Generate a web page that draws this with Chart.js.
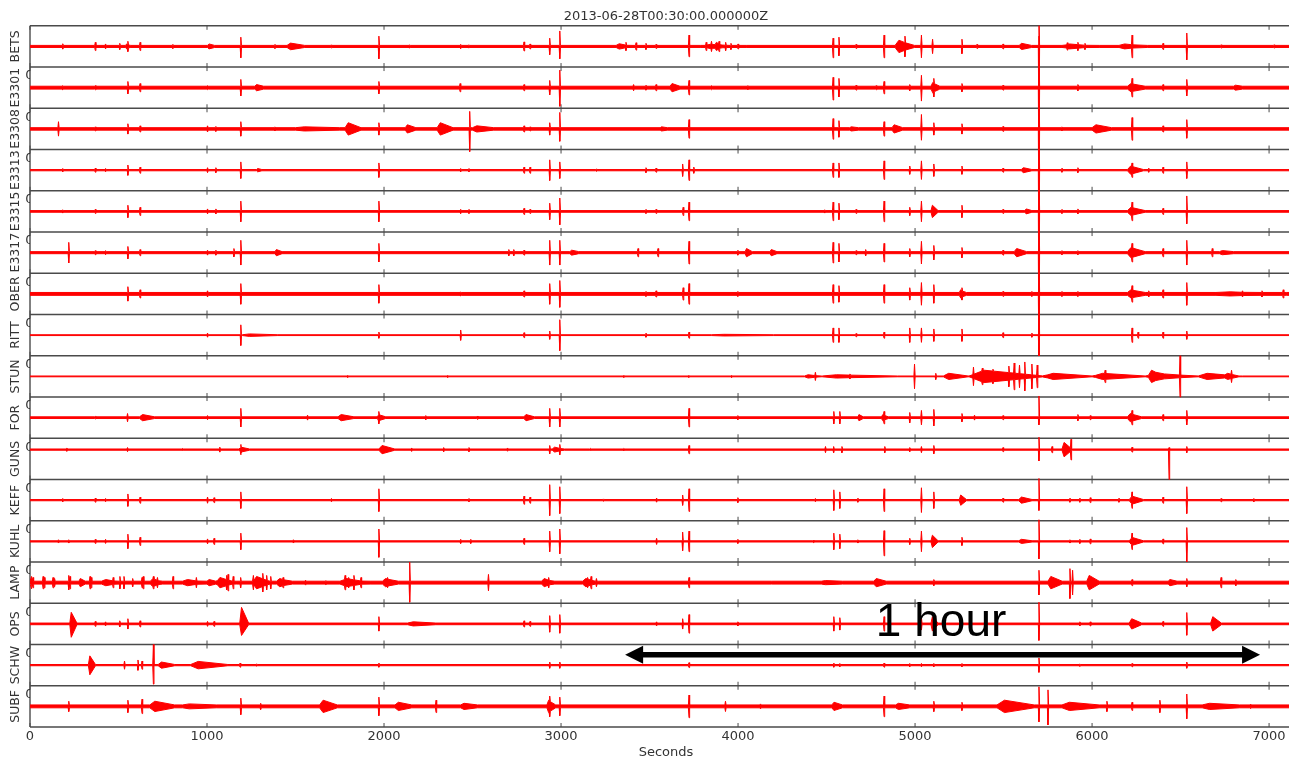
<!DOCTYPE html>
<html lang="en">
<head>
<meta charset="UTF-8">
<title>Seismograms 2013-06-28</title>
<script src="https://cdn.jsdelivr.net/npm/chart.js"></script>
<style>
    html, body { margin: 0; padding: 0; background: #fff; overflow: hidden; }
    /* the figure is wider than the window and cut at its right edge, like the original */
    #wrap { width: 1289px; height: 762px; overflow: hidden; }
</style>
</head>
<body>
<div id="wrap"><canvas id="traces" width="1302" height="762"></canvas></div>
<script>
// --- data ---
const plotTitle = '2013-06-28T00:30:00.000000Z';
const xTitle = 'Seconds';
const xMax = 7186;
const xTicks = [0, 1000, 2000, 3000, 4000, 5000, 6000, 7000];
const stations = ['BETS', 'E3301', 'E3308', 'E3313', 'E3315', 'E3317', 'OBER', 'RITT', 'STUN',
                  'FOR', 'GUNS', 'KEFF', 'KUHL', 'LAMP', 'OPS', 'SCHW', 'SUBF'];
// background noise level and baseline shift, in half-panel units
const noise = [0.05, 0.07, 0.06, 0.03, 0.04, 0.05, 0.07, 0.02, 0.02, 0.04, 0.03, 0.03, 0.03, 0.07, 0.04, 0.03, 0.07];
const shift = [0, 0, 0, 0, 0, 0, 0, 0, 0, 0, 0.45, 0, 0, 0, 0, 0, 0];
// events: [seconds, amplitude up, duration (0 = spike), amplitude down]
const betsEv = [[185,.13],[369,.2],[427,.12],[507,.15],[553,.25],[540,.12,30],[622,.2],[807,.1],[1003,.12,40],[1191,.45,0,.55],[1384,.1],[1452,.16,100],[1703,.08],[1971,.5,0,.6],[2145,.08],[2433,.1],[2480,.08],[2791,.22],[2825,.12],[2936,.4],[2993,.75,0,.6],[3311,.13,90],[3367,.2],[3424,.18],[3480,.15],[3537,.1],[3723,.55,0,.5],[3790,.1,260],[3820,.2],[3850,.25],[3870,.2,40],[3893,.25],[3930,.2],[3960,.15],[4000,.12],[4537,.4,0,.55],[4570,.45],[4667,.1],[4825,.55],[4887,.3,110],[4943,.5],[5036,.55],[5099,.35],[5265,.35],[5350,.1],[5497,.12],[5588,.15,70],[5700,1.5,0,5],[5830,.12,210],[5860,.18],[5920,.2],[5960,.15],[6152,.12,160],[6226,.55],[6401,.15],[6535,.65],[6729,.08],[7028,.08]];
const e3301Ev = [[185,.1],[369,.1],[553,.3],[622,.2],[1003,.1],[1191,.4],[1270,.15,50],[1971,.3],[2430,.2],[2791,.15],[2936,.35],[2993,.85,0,.9],[3410,.15],[3480,.12],[3537,.15],[3616,.2,56],[3723,.35],[3850,.1],[4056,.1],[4537,.5,0,.6],[4570,.45],[4667,.12],[4780,.1],[4825,.3],[4970,.15],[5036,.6,0,.65],[5106,.45],[5090,.25,50],[5265,.2],[5497,.12],[5700,2.5,0,5],[5920,.15],[6200,.2,100],[6226,.45],[6401,.15],[6535,.4],[6800,.12,50]];
const e3308Ev = [[161,.35],[369,.1],[553,.25],[622,.15],[1003,.15],[1050,.12],[1191,.35],[1384,.1],[1500,.1,250],[1780,.3,90],[1971,.3],[2120,.2,60],[2300,.3,90],[2484,.85,0,1.1],[2500,.15,120],[2791,.15],[2825,.1],[2936,.3],[2993,.8,0,.6],[3560,.1,40],[3723,.45],[4537,.5],[4570,.4],[4630,.1,50],[4825,.35],[4870,.2,60],[5036,.7,0,.55],[5106,.3],[5265,.25],[5497,.12],[5700,2.5,0,5],[5830,.1],[6000,.2,110],[6226,.55],[6401,.15],[6535,.45]];
const e3313Ev = [[185,.08],[369,.1],[427,.08],[553,.25],[622,.15],[1003,.12],[1050,.12],[1191,.4],[1280,.08,30],[1971,.35],[2433,.08],[2480,.08],[2791,.15],[2825,.15],[2936,.5],[2993,.4],[3200,.06],[3480,.12],[3537,.1],[3687,.3],[3723,.5],[3750,.15],[4537,.35],[4570,.35],[4825,.45],[4970,.2],[5036,.45],[5106,.3],[5265,.2],[5497,.1],[5600,.12,60],[5700,2.5,0,5],[5830,.1],[5920,.12],[6200,.2,90],[6226,.35],[6320,.1],[6401,.15],[6535,.4]];
const e3315Ev = [[185,.08],[369,.1],[553,.3],[622,.2],[1003,.12],[1050,.12],[1191,.5],[1971,.5],[2433,.1],[2480,.1],[2791,.15],[2825,.1],[2936,.4],[2993,.65],[3480,.1],[3537,.1],[3690,.2],[3723,.45],[4490,.08],[4537,.45],[4570,.4],[4667,.1],[4825,.5],[4970,.2],[5036,.5],[5090,.3,40],[5265,.3],[5497,.1],[5620,.12,40],[5700,2.5,0,5],[5830,.1],[5920,.12],[6200,.2,100],[6226,.45],[6401,.15],[6535,.75,0,.6]];
const e3317Ev = [[219,.5],[369,.1],[427,.1],[553,.3],[622,.15],[1003,.12],[1050,.12],[1152,.2],[1191,.6],[1384,.15,40],[1971,.45],[2705,.15],[2733,.15],[2791,.12],[2936,.6],[2993,.6],[3050,.12,50],[3435,.2],[3548,.2],[3723,.55],[3999,.12],[4040,.2,40],[4180,.15,40],[4537,.5],[4570,.45],[4667,.1],[4721,.15],[4825,.45],[4970,.2],[5036,.55],[5106,.35],[5265,.25],[5497,.12],[5560,.2,70],[5700,2.5,0,5],[5830,.1],[5920,.1],[6200,.25,100],[6226,.45],[6401,.2],[6535,.6],[6679,.2],[6720,.1,80]];
const oberEv = [[553,.35],[622,.2],[1003,.15],[1191,.5],[1971,.45],[2433,.1],[2791,.15],[2936,.5],[2993,.65],[3480,.12],[3537,.15],[3690,.3],[3723,.5],[3999,.12],[4537,.45],[4570,.4],[4825,.45],[4970,.3],[5036,.55],[5106,.45],[5250,.2,40],[5265,.3],[5497,.12],[5660,.12],[5700,2.5,0,3],[5830,.12],[5920,.12],[6200,.2,100],[6226,.4],[6320,.15],[6401,.2],[6535,.55],[6700,.1,400],[6850,.15],[6960,.15],[7080,.2]];
const rittEv = [[1003,.1],[1191,.5],[1200,.06,200],[1971,.15],[2433,.25],[2791,.12],[2936,.2],[2993,.75],[3480,.1],[3723,.15],[3850,.04,350],[4537,.35],[4570,.35],[4667,.08],[4825,.15],[4970,.35],[5036,.35],[5106,.3],[5265,.3],[5497,.12],[5660,.1],[5700,2.5,0,1],[6226,.35],[6260,.15],[6401,.15],[6535,.2]];
const stunEv = [[1795,.05],[2360,.05],[3355,.05],[3722,.05],[3964,.05],[4376,.08,100],[4437,.2],[4470,.08,430],[4632,.12],[4997,.6],[5117,.15],[5160,.15,150],[5300,.3,450],[5330,.45],[5380,.4],[5440,.35],[5530,.5],[5560,.65],[5590,.55],[5620,.7],[5660,.6],[5690,.55],[5720,.15,300],[6000,.15,300],[6074,.3],[6300,.15,300],[6318,.3,90],[6497,1],[6600,.15,250],[6750,.15,80],[6788,.3]];
const forEv = [[369,.06],[551,.2],[619,.15,85],[1003,.1],[1191,.45],[1568,.12],[1740,.15,90],[1960,.15,50],[1971,.3],[2236,.1],[2527,.08],[2790,.15,60],[2936,.45],[2993,.45],[3723,.45],[3999,.1],[4541,.3],[4575,.3],[4677,.15,30],[4810,.15,40],[4825,.3],[4970,.25],[5036,.35],[5106,.4],[5265,.2],[5336,.12],[5497,.1],[5700,1.05,0,.35],[5920,.15],[5990,.1],[6200,.2,80],[6226,.35],[6401,.15],[6535,.35]];
const gunsEv = [[208,.08],[551,.1],[862,.06],[1072,.12],[1180,.12,60],[1191,.25],[1971,.2,90],[2156,.08],[2337,.1],[2480,.1],[2698,.08],[2936,.2],[2950,.12,70],[2993,.25],[3166,.06],[3355,.06],[3723,.2],[4494,.15],[4540,.15],[4587,.15],[4829,.15],[4970,.1],[5036,.15],[5106,.2],[5497,.1],[5700,.6,0,.55],[5774,.15],[5830,.35,60],[5881,.5],[6226,.12],[6435,.1,0,1.45],[6535,.15]];
const keffEv = [[185,.08],[369,.1],[427,.08],[553,.3],[622,.15],[1003,.15],[1040,.12],[1191,.4],[1703,.08],[1971,.55],[2480,.08],[2791,.2],[2825,.15],[2936,.75],[2993,.65],[3240,.06],[3540,.1],[3687,.25],[3723,.55],[3999,.12],[4437,.08],[4541,.5],[4575,.4],[4677,.1],[4825,.55],[5036,.6],[5106,.4],[5250,.25,40],[5497,.1],[5586,.15,75],[5700,1.05,0,.5],[5875,.1],[5931,.1],[5990,.12],[6152,.1],[6210,.2,80],[6226,.4],[6401,.15],[6535,.65],[6729,.08],[6914,.08]];
const kuhlEv = [[161,.08],[219,.08],[369,.1],[427,.1],[553,.35],[622,.2],[1003,.12],[1040,.15],[1191,.4],[1488,.08],[1971,.6,0,.77],[2433,.1],[2490,.1],[2791,.15],[2936,.5],[2993,.6],[3540,.15],[3687,.45],[3723,.5],[3999,.1],[4425,.06],[4541,.4],[4575,.35],[4677,.08],[4825,.52,0,.7],[4970,.15],[5036,.5],[5090,.3,40],[5265,.2],[5586,.1,75],[5700,1.05,0,.85],[5875,.08],[5931,.1],[5990,.12],[6210,.2,80],[6226,.4],[6401,.12],[6535,.67,0,1]];
const lampEv = [[9,.3],[17,.25],[74,.3],[81,.25],[130,.25],[139,.2],[219,.35],[226,.3],[277,.2,35],[339,.3],[346,.25],[404,.15,120],[470,.25],[508,.3],[531,.3],[580,.2],[633,.25],[640,.3],[680,.2,70],[697,.3],[720,.25],[808,.3],[862,.15,140],[940,.25],[1000,.15,60],[1050,.25,115],[1111,.35],[1119,.4],[1148,.3],[1190,.25],[1257,.3,115],[1262,.35],[1315,.45],[1337,.35],[1360,.3],[1393,.2,90],[1430,.25],[1557,.12],[1672,.1],[1751,.2,175],[1780,.35],[1800,.25],[1830,.35],[1870,.25],[1991,.2,90],[2020,.25],[2145,1,0,.95],[2590,.4],[2890,.2,75],[2930,.25],[3122,.2,90],[3150,.25],[3170,.3],[3200,.2],[3723,.25],[4192,.06],[4470,.1,120],[4767,.2,70],[5106,.15],[5700,.6],[5751,.3,80],[5875,.68,0,.77],[5890,.6],[5970,.35,70],[6226,.15],[6430,.15,50],[6535,.2],[6729,.25],[6812,.15]];
const opsEv = [[225,.56,40,.65],[369,.12],[427,.1],[507,.15],[553,.25],[622,.15],[1003,.12],[1040,.12],[1185,.8,50,.56],[1971,.35],[2133,.1,160],[2791,.15],[2825,.12],[2936,.4],[2993,.45],[3540,.1],[3687,.25],[3723,.45],[3999,.1],[4541,.35],[4575,.3],[4825,.35],[5036,.3],[5090,.35,40],[5265,.15],[5700,1.05,0,.8],[5931,.1],[5990,.1],[6210,.25,70],[6401,.12],[6535,.55],[6670,.35,60]];
const schwEv = [[330,.45,40,.47],[534,.2],[610,.25],[633,.2],[697,1,0,.92],[724,.15,94],[908,.18,210],[1187,.1],[1280,.06],[1971,.1],[2936,.15],[2993,.15],[3723,.12],[4541,.1],[4575,.08],[4825,.1],[4970,.08],[5036,.08],[5106,.08],[5265,.08],[5700,.35],[5931,.06],[6226,.08],[6535,.15]];
const subfEv = [[219,.25],[553,.3],[633,.35],[677,.25,140],[862,.12,190],[1191,.4],[1303,.15],[1636,.3,100],[1971,.45],[2062,.2,95],[2294,.3],[2433,.15,95],[2920,.3,50],[2936,.5],[2993,.45],[3723,.55],[3929,.25],[4127,.12],[4530,.2,60],[4825,.5],[4890,.15,80],[5106,.25],[5265,.2],[5463,.3,210],[5700,.95,0,.75],[5751,.8,0,.9],[5830,.2,210],[6084,.25],[6226,.2],[6383,.3],[6535,.6],[6622,.15,210],[6893,.1]];
const events = [betsEv, e3301Ev, e3308Ev, e3313Ev, e3315Ev, e3317Ev, oberEv, rittEv, stunEv,
                forEv, gunsEv, keffEv, kuhlEv, lampEv, opsEv, schwEv, subfEv];
// "1 hour" scale arrow (seconds, panel rows)
const arrowFrom = 3362, arrowTo = 6949, arrowRow = 15.25;
const arrowText = '1 hour', arrowTextAt = [5147, 14.79];

// --- envelope of each trace ---
function shapeOf(e, side) {
    const t = e[0], dur = e[2] || 0;
    const a = side && e[3] !== undefined ? e[3] : e[1];
    if (!dur) return [[t - 3.5, 0], [t, a], [t + 3.5, 0]];
    return [[t, 0], [t + dur * 0.2, a], [t + dur, 0]];
}

function valueAt(s, x) {
    if (x < s[0][0] || x > s[2][0]) return 0;
    if (x <= s[1][0]) return s[1][1] * (x - s[0][0]) / (s[1][0] - s[0][0]);
    return s[1][1] * (s[2][0] - x) / (s[2][0] - s[1][0]);
}

function envelope(list, n, side) {
    const shapes = list.map(e => shapeOf(e, side));
    const xs = [0, xMax];
    shapes.forEach(s => s.forEach(p => xs.push(p[0])));
    xs.sort((a, b) => a - b);
    return xs.filter(x => x >= 0 && x <= xMax).map(x => {
        let v = n;
        shapes.forEach(s => { v = Math.max(v, valueAt(s, x)); });
        return { x: x, v: v };
    });
}

const red = '#ff0000';
const datasets = [];
stations.forEach((name, i) => {
    const top = envelope(events[i], noise[i], 0);
    const bot = envelope(events[i], noise[i], 1);
    const common = { borderColor: red, backgroundColor: red, borderWidth: 1, pointRadius: 0,
                     borderJoinStyle: 'bevel', tension: 0 };
    datasets.push(Object.assign({ label: name, fill: '+1',
        data: top.map(p => ({ x: p.x, y: i + 0.5 - (shift[i] + p.v) / 2 })) }, common));
    datasets.push(Object.assign({ label: name + ' low', fill: false,
        data: bot.map(p => ({ x: p.x, y: i + 0.5 - (shift[i] - p.v) / 2 })) }, common));
});

// panel frames, tick marks, station names, scale arrow
const panels = {
    id: 'panels',
    beforeDatasetsDraw(chart) {
        const { ctx, chartArea: a, scales: { x, y } } = chart;
        ctx.save();
        ctx.strokeStyle = '#4a4a4a';
        ctx.lineWidth = 1.4;
        for (let k = 0; k <= stations.length; k++) {
            const py = y.getPixelForValue(k);
            ctx.beginPath(); ctx.moveTo(a.left, py); ctx.lineTo(a.right, py); ctx.stroke();
        }
        ctx.beginPath(); ctx.moveTo(a.left, a.top); ctx.lineTo(a.left, a.bottom); ctx.stroke();
        ctx.lineWidth = 1;
        xTicks.forEach(v => {
            const px = x.getPixelForValue(v);
            for (let k = 0; k <= stations.length; k++) {
                const py = y.getPixelForValue(k);
                ctx.beginPath();
                ctx.moveTo(px, k === 0 ? py : py - 4);
                ctx.lineTo(px, k === stations.length ? py : py + 4);
                ctx.stroke();
            }
        });
        ctx.restore();
    },
    afterDraw(chart) {
        const { ctx, chartArea: a, scales: { x, y } } = chart;
        ctx.save();
        ctx.fillStyle = '#333';
        ctx.font = '12.5px "DejaVu Sans"';
        ctx.textAlign = 'center';
        ctx.textBaseline = 'middle';
        stations.forEach((name, i) => {
            ctx.save();
            ctx.translate(16, y.getPixelForValue(i + 0.5));
            ctx.rotate(-Math.PI / 2);
            ctx.fillText(name, 0, 0);
            ctx.restore();
        });
        // half-hidden "0" tick labels
        ctx.save();
        ctx.beginPath(); ctx.rect(0, 0, a.left, chart.height); ctx.clip();
        ctx.font = '13px "DejaVu Sans"';
        ctx.textAlign = 'left';
        for (let k = 1; k < stations.length; k++) {
            ctx.fillText('0', a.left - 4.8, y.getPixelForValue(k) + 9);
        }
        ctx.restore();
        // arrow
        const x1 = x.getPixelForValue(arrowFrom), x2 = x.getPixelForValue(arrowTo);
        const ay = y.getPixelForValue(arrowRow);
        ctx.fillStyle = '#000';
        ctx.strokeStyle = '#000';
        ctx.lineWidth = 5.5;
        ctx.beginPath(); ctx.moveTo(x1 + 10, ay); ctx.lineTo(x2 - 10, ay); ctx.stroke();
        [[x1, 1], [x2, -1]].forEach(h => {
            ctx.beginPath();
            ctx.moveTo(h[0], ay);
            ctx.lineTo(h[0] + h[1] * 18, ay - 9);
            ctx.lineTo(h[0] + h[1] * 18, ay + 9);
            ctx.closePath();
            ctx.fill();
        });
        ctx.font = '46px "Liberation Sans"';
        ctx.textAlign = 'center';
        ctx.textBaseline = 'alphabetic';
        ctx.fillText(arrowText, x.getPixelForValue(arrowTextAt[0]), y.getPixelForValue(arrowTextAt[1]));
        ctx.restore();
    }
};

new Chart(document.getElementById('traces'), {
    type: 'line',
    data: { datasets: datasets },
    plugins: [panels],
    options: {
        responsive: false,
        animation: false,
        devicePixelRatio: 1,
        layout: { padding: { left: 30, right: 0, top: 0, bottom: 0 } },
        plugins: {
            legend: { display: false },
            tooltip: { enabled: false },
            title: {
                display: true, text: plotTitle, fullSize: false, color: '#333',
                font: { family: 'DejaVu Sans', size: 13, weight: 'normal' },
                padding: { top: 8.6, bottom: 1.6 }
            }
        },
        scales: {
            x: {
                type: 'linear', min: 0, max: xMax,
                afterBuildTicks: s => { s.ticks = xTicks.map(v => ({ value: v })); },
                afterFit: s => { s.height = 35; s.paddingLeft = 0; s.paddingRight = 0; },
                grid: { display: false, drawTicks: false },
                border: { display: false },
                ticks: { color: '#333', padding: 2, maxRotation: 0, autoSkip: false,
                         callback: v => String(v),
                         font: { family: 'DejaVu Sans', size: 13 } },
                title: { display: true, text: xTitle, color: '#333', padding: { top: 0, bottom: 2 },
                         font: { family: 'DejaVu Sans', size: 13 } }
            },
            y: { type: 'linear', min: 0, max: stations.length, reverse: true, display: false }
        }
    }
});
</script>
</body>
</html>
